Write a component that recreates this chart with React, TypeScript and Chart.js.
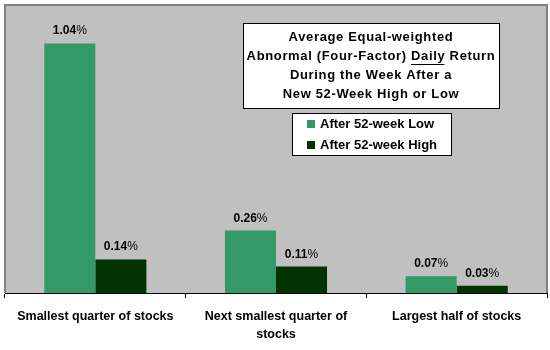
import { useEffect, useRef } from "react";
import { Chart, registerables } from "chart.js";
Chart.register(...registerables);

const categories = [["Smallest quarter of stocks"], ["Next smallest quarter of", "stocks"], ["Largest half of stocks"]];
const seriesNames = ["After 52-week Low", "After 52-week High"];
const lowValues = [1.04, 0.26, 0.07];
const highValues = [0.14, 0.11, 0.03];
const seriesColors = ["#339966", "#003300"];
const titleLines = ["Average Equal-weighted", "Abnormal (Four-Factor) |Daily| Return", "During the Week After a", "New 52-Week High or Low"];

const FONT = "Liberation Sans, Arial, sans-serif";

const bgPlugin = {
  id: "bgPlugin",
  beforeDraw(chart: any) {
    const { ctx, chartArea: a } = chart;
    ctx.save();
    ctx.fillStyle = "#ffffff";
    ctx.fillRect(0, 0, chart.width, chart.height);
    ctx.fillStyle = "#c0c0c0";
    ctx.fillRect(a.left, a.top, a.right - a.left, a.bottom - a.top);
    ctx.strokeStyle = "#808080";
    ctx.lineWidth = 2;
    ctx.beginPath();
    ctx.moveTo(a.left, a.bottom);
    ctx.lineTo(a.left, a.top);
    ctx.lineTo(a.right, a.top);
    ctx.lineTo(a.right, a.bottom);
    ctx.stroke();
    ctx.restore();
  },
};

const labelPlugin = {
  id: "labelPlugin",
  afterDatasetsDraw(chart: any) {
    const { ctx } = chart;
    ctx.save();
    ctx.textBaseline = "alphabetic";
    ctx.fillStyle = "#000";
    chart.data.datasets.forEach((ds: any, di: number) => {
      const meta = chart.getDatasetMeta(di);
      meta.data.forEach((el: any, i: number) => {
        const num = ds.data[i].toFixed(2);
        ctx.font = `bold 12px ${FONT}`;
        const w1 = ctx.measureText(num).width;
        ctx.font = `12px ${FONT}`;
        const w2 = ctx.measureText("%").width;
        const x0 = el.x - (w1 + w2) / 2;
        const y = el.y - 9;
        ctx.font = `bold 12px ${FONT}`;
        ctx.textAlign = "left";
        ctx.fillText(num, x0, y);
        ctx.font = `12px ${FONT}`;
        ctx.fillText("%", x0 + w1, y);
      });
    });
    ctx.restore();
  },
};

const boxPlugin = {
  id: "boxPlugin",
  afterDraw(chart: any) {
    const { ctx } = chart;
    ctx.save();
    // title box
    ctx.fillStyle = "#fff";
    ctx.strokeStyle = "#000";
    ctx.lineWidth = 1;
    ctx.fillRect(243.5, 23.5, 256, 85);
    ctx.strokeRect(243.5, 23.5, 256, 85);
    ctx.font = `bold 13px ${FONT}`;
    (ctx as any).letterSpacing = "0.65px";
    ctx.fillStyle = "#000";
    ctx.textBaseline = "middle";
    ctx.textAlign = "left";
    const cx = 371;
    titleLines.forEach((line, i) => {
      const parts = line.split("|");
      const plain = parts.join("");
      const total = ctx.measureText(plain).width;
      let x = cx - total / 2;
      const y = 37 + i * 19;
      parts.forEach((p, pi) => {
        const w = ctx.measureText(p).width;
        ctx.fillText(p, x, y);
        if (pi === 1) {
          ctx.beginPath();
          ctx.moveTo(x, y + 8.5);
          ctx.lineTo(x + w - 1, y + 8.5);
          ctx.lineWidth = 1;
          ctx.stroke();
        }
        x += w;
      });
    });
    (ctx as any).letterSpacing = "0px";
    // legend box
    ctx.fillStyle = "#fff";
    ctx.fillRect(292.5, 113.5, 159, 42);
    ctx.strokeRect(292.5, 113.5, 159, 42);
    chart.data.datasets.forEach((ds: any, i: number) => {
      const y = 124 + i * 21;
      ctx.fillStyle = ds.backgroundColor;
      ctx.fillRect(307, y - 4, 8, 8);
      ctx.fillStyle = "#000";
      ctx.font = `bold 13px ${FONT}`;
      ctx.fillText(ds.label, 320, y);
    });
    ctx.restore();
  },
};

export default function App() {
  const ref = useRef<HTMLCanvasElement>(null);
  useEffect(() => {
    document.body.style.margin = "0";
    const chart = new Chart(ref.current!, {
      type: "bar",
      data: {
        labels: categories as any,
        datasets: [
          { label: seriesNames[0], data: lowValues, backgroundColor: seriesColors[0], categoryPercentage: 0.565, barPercentage: 1 },
          { label: seriesNames[1], data: highValues, backgroundColor: seriesColors[1], categoryPercentage: 0.565, barPercentage: 1 },
        ],
      },
      options: {
        responsive: false,
        animation: false,
        layout: { padding: { left: 5, right: 3, top: 5, bottom: 0 } },
        plugins: { legend: { display: false }, tooltip: { enabled: false }, title: { display: false } },
        scales: {
          y: { display: false, min: 0, max: 1.2 },
          x: {
            afterFit(scale: any) { scale.height = 57; },
            border: { display: true, color: "#000", width: 1 },
            grid: { drawOnChartArea: false, drawTicks: true, tickLength: 5, color: "#000", offset: true },
            ticks: { color: "#000", font: { family: FONT, size: 12.5, weight: "bold", lineHeight: 1.45 }, padding: 9, maxRotation: 0, autoSkip: false },
          },
        },
      },
      plugins: [bgPlugin, labelPlugin, boxPlugin],
    });
    return () => chart.destroy();
  }, []);
  return (
    <div style={{ position: "absolute", left: 0, top: 0, width: 550, height: 350 }}>
      <canvas ref={ref} width={550} height={350} style={{ width: 550, height: 350 }} />
    </div>
  );
}
